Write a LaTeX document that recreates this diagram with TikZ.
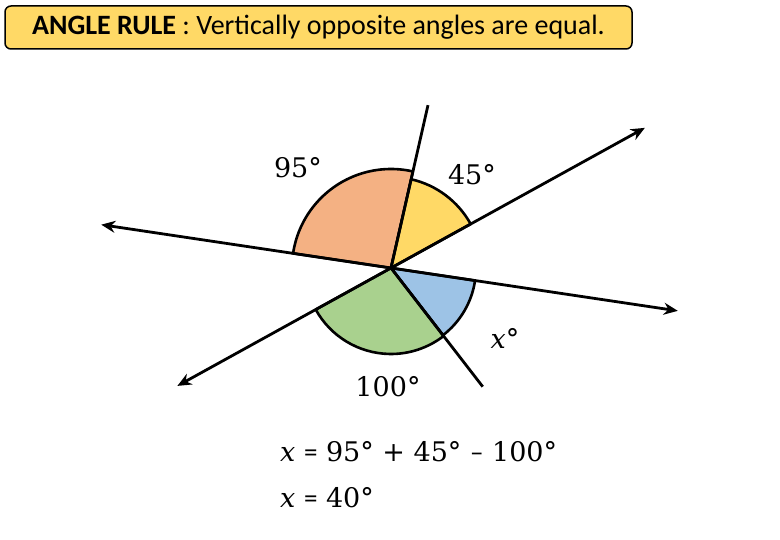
\documentclass[tikz,border=0pt]{standalone}
\usepackage{fontspec}
\newfontfamily\calibri{Carlito}
\newfontfamily\cambria{DejaVu Serif}
\usetikzlibrary{arrows.meta}
\definecolor{ruleyellow}{HTML}{FFD966}
\definecolor{angorange}{HTML}{F4B183}
\definecolor{angyellow}{HTML}{FFD966}
\definecolor{angblue}{HTML}{9DC3E6}
\definecolor{anggreen}{HTML}{A9D18E}

\begin{document}
\begin{tikzpicture}[x=1pt,y=1pt]
        \tikzstyle{line}=[line width=2.8pt, {Stealth[length=14pt,width=12pt]}-{Stealth[length=14pt,width=12pt]}]
        \tikzstyle{ray}=[line width=2.8pt]
        \tikzstyle{sector}=[draw=black, line width=2.6pt, line join=round]
        \tikzstyle{lbl}=[font=\cambria\fontsize{27}{32}\selectfont, inner sep=0pt]
        \useasboundingbox (0,0) rectangle (780,540);
        % rule box
        \node[draw, line width=1.5pt, rounded corners=6pt, fill=ruleyellow, minimum width=627pt, minimum height=43pt, font=\calibri\fontsize{28}{32}\selectfont] (rule) at (318.5,512.5) {\textbf{ANGLE RULE} : Vertically opposite angles are equal.};
        % crossing point and line ends
        \coordinate (O) at (391,272);
        \path (O) ++(171.5:293) coordinate (aL) (O) ++(-8.5:290) coordinate (aR);
        \path (O) ++(28.9:290) coordinate (bR) (O) ++(208.9:244) coordinate (bL);
        \path (O) ++(77.2:167) coordinate (up) (O) ++(-52.3:150) coordinate (down);
        % angles
        \filldraw[sector, fill=angorange] (O) -- ++(77.2:99) arc (77.2:171.5:99) -- cycle;
        \filldraw[sector, fill=angyellow] (O) -- ++(28.9:91) arc (28.9:77.2:91) -- cycle;
        \filldraw[sector, fill=angblue] (O) -- ++(-52.3:85) arc (-52.3:-8.5:85) -- cycle;
        \filldraw[sector, fill=anggreen] (O) -- ++(208.9:86) arc (208.9:307.7:86) -- cycle;
        % lines
        \draw[line] (aL) -- (aR);
        \draw[line] (bL) -- (bR);
        \draw[ray] (O) -- (up);
        \draw[ray] (O) -- (down);
        % labels
        \node[lbl] (a95) at (298,372) {95°};
        \node[lbl] (a45) at (472,365) {45°};
        \node[lbl] (ax) at (505,202) {\textit{x}°};
        \node[lbl] (a100) at (388,153) {100°};
        \node[lbl, anchor=base west] (eq1) at (280,78) {\textit{x} {\calibri=} 95° + 45° {\calibri–} 100°};
        \node[lbl, anchor=base west] (eq2) at (280,32) {\textit{x} {\calibri=} 40°};
    \end{tikzpicture}
\end{document}
